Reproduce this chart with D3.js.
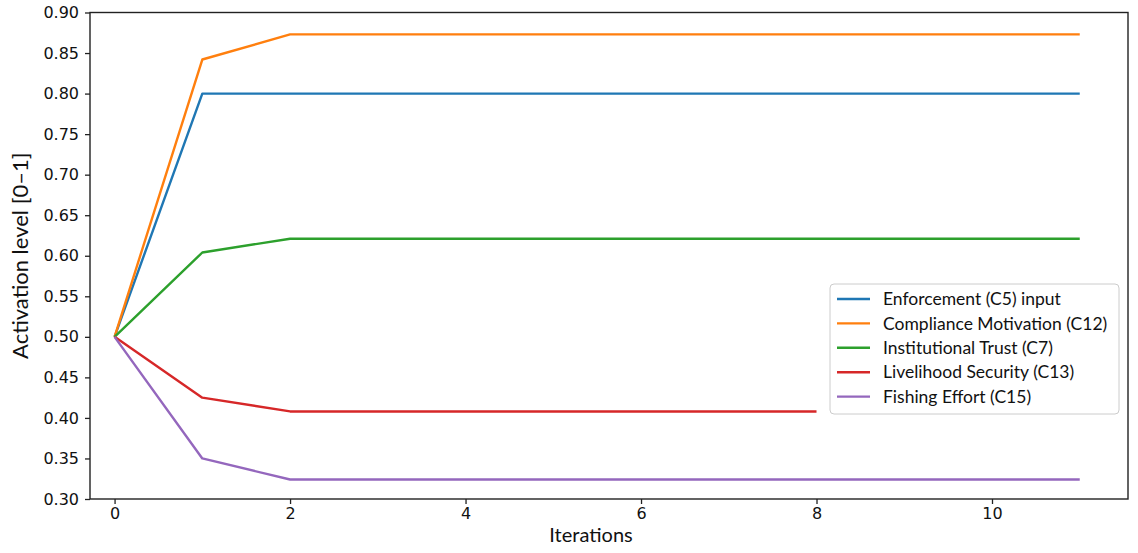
<!DOCTYPE html>
<html>
<head>
<meta charset="utf-8">
<script src="https://cdn.jsdelivr.net/npm/d3@7"></script>
<style>
    body { margin: 0; background: #fff; }
    svg { display: block; }
</style>
</head>
<body>
<svg id="chart" width="1138" height="553"></svg>
<script>
/*------------------- data --------------------*/
const iterations = [0, 1, 2, 3, 4, 5, 6, 7, 8, 9, 10, 11];
const seriesNames = [
    "Enforcement (C5) input",
    "Compliance Motivation (C12)",
    "Institutional Trust (C7)",
    "Livelihood Security (C13)",
    "Fishing Effort (C15)"
];
const seriesColors = ["#1f77b4", "#ff7f0e", "#2ca02c", "#d62728", "#9467bd"];
const enforcement = [0.5, 0.8, 0.8, 0.8, 0.8, 0.8, 0.8, 0.8, 0.8, 0.8, 0.8, 0.8];
const compliance = [0.5, 0.842, 0.873, 0.873, 0.873, 0.873, 0.873, 0.873, 0.873, 0.873, 0.873, 0.873];
const trust = [0.5, 0.604, 0.621, 0.621, 0.621, 0.621, 0.621, 0.621, 0.621, 0.621, 0.621, 0.621];
const livelihood = [0.5, 0.425, 0.408, 0.408, 0.408, 0.408, 0.408, 0.408, 0.408];
const effort = [0.5, 0.35, 0.324, 0.324, 0.324, 0.324, 0.324, 0.324, 0.324, 0.324, 0.324, 0.324];
const seriesValues = [enforcement, compliance, trust, livelihood, effort];

const yTicks = [0.30, 0.35, 0.40, 0.45, 0.50, 0.55, 0.60, 0.65, 0.70, 0.75, 0.80, 0.85, 0.90];
const xTicks = [0, 2, 4, 6, 8, 10];

/*------------------- layout --------------------*/
const plot = { left: 90, right: 1128, top: 12.5, bottom: 499 };
const tickFont = "'DejaVu Sans', sans-serif";
const labelFont = "Lato, 'Open Sans', sans-serif";

const svg = d3.select("#chart");

const x = d3.scaleLinear().domain([-0.28, 11.55]).range([plot.left, plot.right]);
const y = d3.scaleLinear().domain([0.30, 0.90]).range([plot.bottom, plot.top]);

/*------------------- lines --------------------*/
const line = d3.line()
    .x((d, i) => x(iterations[i]))
    .y(d => y(d));

svg.append("g")
    .selectAll("path")
    .data(seriesValues)
    .enter()
    .append("path")
    .attr("d", d => line(d))
    .attr("fill", "none")
    .attr("stroke", (d, i) => seriesColors[i])
    .attr("stroke-width", 2.4)
    .attr("stroke-linejoin", "round");

/*------------------- axes --------------------*/
const xAxis = svg.append("g")
    .attr("transform", `translate(0,${plot.bottom})`)
    .call(d3.axisBottom(x).tickValues(xTicks).tickFormat(d3.format("d")).tickSize(5).tickPadding(4));

const yAxis = svg.append("g")
    .attr("transform", `translate(${plot.left},0)`)
    .call(d3.axisLeft(y).tickValues(yTicks).tickFormat(d3.format(".2f")).tickSize(5).tickPadding(6));

[xAxis, yAxis].forEach(a => {
    a.select(".domain").remove();
    a.selectAll(".tick line").attr("stroke", "#222").attr("stroke-width", 1.3);
    a.selectAll(".tick text")
        .attr("fill", "#111")
        .style("font-family", tickFont)
        .style("font-size", "16px");
});

// frame
svg.append("rect")
    .attr("x", plot.left)
    .attr("y", plot.top)
    .attr("width", plot.right - plot.left)
    .attr("height", plot.bottom - plot.top)
    .attr("fill", "none")
    .attr("stroke", "#222")
    .attr("stroke-width", 1.4);

/*------------------- labels --------------------*/
svg.append("text")
    .attr("x", 591)
    .attr("y", 542)
    .attr("text-anchor", "middle")
    .style("font-family", labelFont)
    .style("font-size", "20px")
    .attr("fill", "#111")
    .text("Iterations");

svg.append("text")
    .attr("transform", `translate(28,${(plot.top + plot.bottom) / 2}) rotate(-90)`)
    .attr("text-anchor", "middle")
    .style("font-family", labelFont)
    .style("font-size", "22px")
    .attr("fill", "#111")
    .text("Activation level [0–1]");

/*------------------- legend --------------------*/
const legend = svg.append("g").attr("transform", "translate(830,284)");

legend.append("rect")
    .attr("width", 289)
    .attr("height", 130)
    .attr("rx", 4)
    .attr("fill", "#fff")
    .attr("fill-opacity", 0.9)
    .attr("stroke", "#ccc")
    .attr("stroke-width", 1);

const items = legend.selectAll("g.item")
    .data(seriesNames)
    .enter()
    .append("g")
    .attr("class", "item")
    .attr("transform", (d, i) => `translate(0,${15 + i * 24.4})`);

items.append("line")
    .attr("x1", 7)
    .attr("x2", 40)
    .attr("stroke", (d, i) => seriesColors[i])
    .attr("stroke-width", 2.4);

items.append("text")
    .attr("x", 53)
    .attr("dy", "0.35em")
    .style("font-family", labelFont)
    .style("font-size", "17.5px")
    .attr("fill", "#111")
    .text(d => d);
</script>
</body>
</html>
